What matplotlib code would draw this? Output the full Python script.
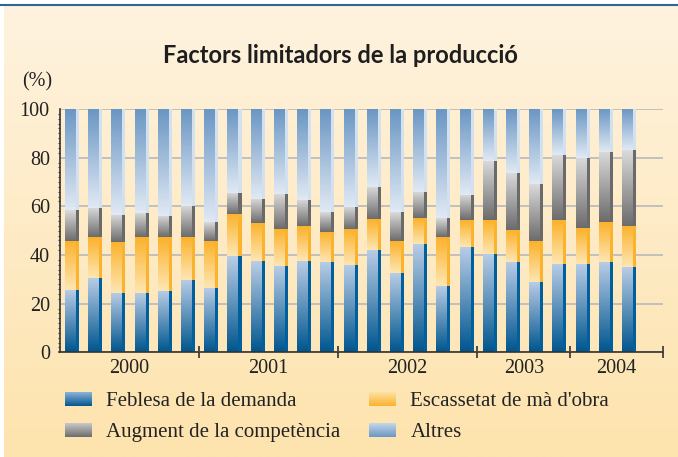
"""
Stacked bar chart: factors limiting production, 2000-2004 (%).
"""
import matplotlib
matplotlib.use("Agg")
import matplotlib.pyplot as plt
import numpy as np
from matplotlib.colors import LinearSegmentedColormap

years = ["2000", "2001", "2002", "2003", "2004"]
slots_per_year = [6, 6, 6, 4, 4]

# segment sizes per bar (percent), bottom to top
demand = [25.5, 30.6, 24.3, 24.4, 25.4, 29.8, 26.5, 39.4, 37.4, 35.4, 37.7, 37.0, 35.9,
          42.0, 32.6, 44.6, 27.3, 43.3, 40.5, 37.2, 28.9, 36.4, 36.4, 37.2, 35.0]
labour = [20.2, 16.7, 21.0, 22.9, 21.9, 17.5, 19.2, 17.3, 15.7, 15.2, 14.2, 12.4, 14.7,
          12.7, 13.1, 10.5, 20.0, 11.0, 13.8, 13.0, 16.8, 17.9, 14.6, 16.3, 16.9]
competition = [12.7, 12.0, 11.1, 9.9, 8.7, 12.8, 7.8, 8.7, 9.9, 14.4, 10.7, 8.2, 9.1,
               13.2, 11.9, 10.7, 7.8, 10.3, 24.3, 23.5, 23.4, 26.8, 28.8, 28.8, 31.2]
others = [41.6, 40.7, 43.6, 42.8, 44.0, 39.9, 46.5, 34.6, 37.0, 35.0, 37.4, 42.4, 40.3,
          32.1, 42.4, 34.2, 44.9, 35.4, 21.4, 26.3, 30.9, 18.9, 20.2, 17.7, 16.9]

series_labels = ["Feblesa de la demanda", "Escassetat de mà d'obra",
                 "Augment de la competència", "Altres"]

W, H = 678, 457
SERIF = ["Liberation Serif", "DejaVu Serif"]
TXT = "#222222"

# (bottom colour, top colour, edge strip colour)
STYLES = [
    ("#00568f", "#b9cde6", "#005f9c"),
    ("#fee6b2", "#fbb22c", "#fbb22c"),
    ("#6c6c6c", "#dadada", "#6a6a6a"),
    ("#e0e9f4", "#6a96c3", "#d3e0ef"),
]
# legend swatches, (top colour, bottom colour)
SWATCH = [
    ("#8fb3d8", "#00568f"),
    ("#fde2a4", "#fbb22c"),
    ("#c9c9c9", "#6c6c6c"),
    ("#c6d7eb", "#6a96c3"),
]


def cmap_of(c0, c1):
    return LinearSegmentedColormap.from_list("g", [c0, c1])


def grad_rect(ax, x, w, b, h, cmap, z=2):
    bar = ax.bar(x, h, width=w, bottom=b, align="edge", color="none", linewidth=0, zorder=z)[0]
    grad = np.linspace(0, 1, 64).reshape(-1, 1)
    im = ax.imshow(grad, cmap=cmap, aspect="auto", origin="lower",
                   extent=(x, x + w, b, b + h), zorder=z, interpolation="bilinear")
    im.set_clip_path(bar)


def main():
    fig = plt.figure(figsize=(W / 100, H / 100), dpi=100)
    fig.patch.set_facecolor("white")

    # background panel
    bg = fig.add_axes([0, 0, 1, 1], zorder=-1)
    bg.axis("off")
    grad = np.linspace(0, 1, 256).reshape(-1, 1)
    bg.imshow(grad, cmap=cmap_of("#fff3df", "#fde3ad"), aspect="auto",
              extent=(4, W, H, 5), origin="upper")
    bg.plot([0, W], [5, 5], color="#2e6699", lw=1.5)

    bg.text(340, 63, "Factors limitadors de la producció", ha="center", va="baseline",
            fontsize=17, fontweight="bold", family=["Lato", "DejaVu Sans"], color="#1e1e1e")
    bg.text(22, 82, "(%)", ha="left", va="center", fontsize=14.5, family=SERIF, color=TXT)

    # legend
    leg_pos = [(65, 399), (369, 399), (65, 430.5), (369, 430.5)]
    for k, (lx, ly) in enumerate(leg_pos):
        top, bottom = SWATCH[k]
        bg.imshow(grad, cmap=cmap_of(top, bottom), aspect="auto",
                  extent=(lx, lx + 27, ly + 6.7, ly - 6.7), origin="upper")
        bg.text(lx + 41.5, ly + 6.5, series_labels[k], ha="left", va="baseline",
                fontsize=15, family=SERIF, color=TXT)
    bg.set_xlim(0, W)
    bg.set_ylim(H, 0)

    # main chart
    ax = fig.add_axes([59.5 / W, 1 - 352.3 / H, (663 - 59.5) / W, 243.3 / H])
    ax.set_facecolor("none")
    n = len(demand)
    segments = [demand, labour, competition, others]
    bottoms = np.zeros(n)
    for k, vals in enumerate(segments):
        c0, c1, strip = STYLES[k]
        cm = cmap_of(c0, c1)
        for i in range(n):
            grad_rect(ax, i - 0.263, 0.474, bottoms[i], vals[i], cm)
            ax.bar(i + 0.211, vals[i], width=0.13, bottom=bottoms[i], align="edge",
                   color=strip, linewidth=0, zorder=2)
        bottoms += np.array(vals)

    total = sum(slots_per_year)
    ax.set_xlim(-0.5, total - 0.5)
    ax.set_ylim(0, 100)

    edges = np.cumsum([0] + slots_per_year) - 0.5
    centers = (edges[:-1] + edges[1:]) / 2
    ax.set_xticks(edges[1:])
    ax.set_xticklabels([])
    ax.set_xticks(centers, minor=True)
    ax.set_xticklabels(years, minor=True, fontsize=14.5, family=SERIF, color=TXT)
    ax.tick_params(axis="x", which="major", direction="inout", length=8, width=1.2,
                   color="#333333")
    ax.tick_params(axis="x", which="minor", length=0, pad=5)

    ax.set_yticks(np.arange(0, 101, 20))
    ax.set_yticklabels([str(v) for v in range(0, 101, 20)], fontsize=14.5, family=SERIF,
                       color=TXT)
    ax.set_yticks(np.arange(0, 101, 2), minor=True)
    ax.tick_params(axis="y", which="major", direction="out", length=0, pad=7)
    ax.tick_params(axis="y", which="minor", direction="out", length=1.8, width=0.8,
                   color="#444444")
    ax.yaxis.grid(True, color="#bdbdbd", linewidth=1.3, zorder=0)
    ax.set_axisbelow(True)

    for s in ("top", "right"):
        ax.spines[s].set_visible(False)
    for s in ("left", "bottom"):
        ax.spines[s].set_color("#333333")
        ax.spines[s].set_linewidth(1.2)
        ax.spines[s].set_zorder(3)

    fig.savefig("out.png", dpi=100, facecolor=fig.get_facecolor())
    plt.close(fig)


if __name__ == "__main__":
    main()
